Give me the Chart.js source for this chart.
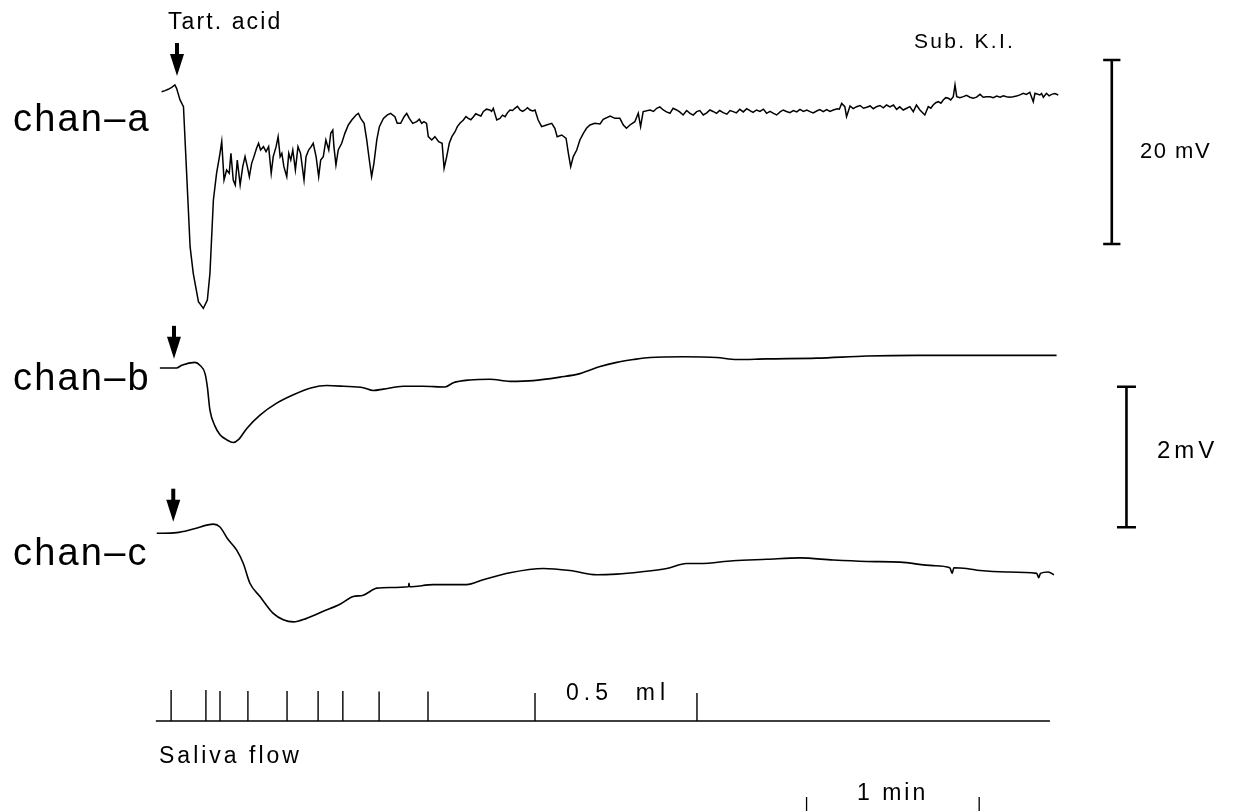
<!DOCTYPE html>
<html><head><meta charset="utf-8">
<script src="https://cdn.jsdelivr.net/npm/chart.js@4"></script>
<style>html,body{margin:0;padding:0;background:#fff;overflow:hidden}#wrap{width:1235px;height:811px;position:relative}</style>
</head><body><div id="wrap"><canvas id="c"></canvas></div>
<script>
// time in seconds from stimulus, potentials in mV
const chanA = [[-5.0,-0.40],[-3.8,-0.29],[-2.7,-0.14],[-1.5,0.07],[-0.4,0.33],[0.2,-0.04],[1.4,-1.30],[2.6,-2.03],[3.7,-9.28],[4.9,-17.25],[6.0,-20.15],[7.8,-23.22],[9.5,-23.95],[10.9,-23.04],[11.8,-20.15],[13.0,-12.17],[14.1,-9.28],[15.3,-7.10],[15.9,-5.83],[16.7,-10.0],[17.6,-8.91],[18.5,-9.28],[19.1,-7.10],[19.9,-10.0],[20.6,-10.54],[21.3,-7.83],[22.3,-10.54],[23.2,-8.55],[24.0,-7.46],[24.8,-8.55],[25.5,-9.64],[26.3,-8.19],[27.1,-7.46],[28.0,-6.56],[28.7,-6.01],[29.4,-6.74],[30.4,-6.38],[31.3,-6.92],[32.2,-6.38],[33.1,-9.28],[33.8,-7.46],[34.8,-6.38],[35.5,-5.29],[36.2,-7.46],[36.8,-7.10],[37.5,-8.55],[38.5,-9.64],[39.2,-7.10],[39.9,-7.83],[40.6,-6.74],[41.5,-8.91],[42.4,-6.38],[43.3,-7.10],[44.5,-10.0],[45.2,-7.46],[46.1,-6.74],[47.0,-6.38],[47.7,-6.01],[48.7,-7.46],[49.6,-9.64],[50.3,-7.83],[51.2,-7.46],[52.1,-5.65],[53.1,-6.74],[53.8,-4.93],[54.5,-4.57],[54.9,-6.38],[55.6,-8.37],[56.4,-6.74],[57.6,-6.01],[58.7,-4.93],[59.9,-4.02],[61.1,-3.48],[62.6,-2.93],[63.4,-2.75],[64.2,-3.30],[65.4,-3.84],[66.3,-5.65],[67.2,-7.83],[68.0,-9.64],[68.8,-8.19],[69.8,-5.65],[70.7,-4.20],[72.1,-3.30],[73.5,-2.93],[74.6,-2.75],[76.1,-3.12],[76.9,-3.84],[78.1,-3.84],[79.3,-3.12],[80.2,-2.75],[81.1,-3.30],[82.3,-3.84],[83.7,-3.66],[85.4,-3.84],[87.1,-3.84],[87.7,-5.29],[88.9,-5.65],[90.0,-5.29],[91.3,-5.83],[92.5,-6.01],[93.2,-8.73],[94.1,-7.46],[95.0,-6.01],[95.9,-5.29],[97.0,-4.75],[97.8,-4.20],[98.7,-3.84],[99.9,-3.48],[101.6,-3.30],[103.4,-3.12],[105.1,-2.93],[106.8,-2.57],[109.1,-2.39],[110.3,-2.21],[111.5,-3.48],[112.6,-3.30],[114.4,-3.12],[116.1,-2.39],[117.8,-2.21],[119.6,-2.39],[121.3,-2.39],[123.1,-2.39],[124.8,-2.39],[125.9,-3.48],[127.1,-4.20],[128.8,-4.02],[130.6,-3.84],[131.7,-4.38],[132.5,-5.29],[134.1,-5.11],[135.6,-5.47],[136.4,-7.10],[137.2,-8.55],[138.1,-7.46],[139.3,-6.74],[140.4,-5.65],[141.6,-4.93],[142.7,-4.38],[143.9,-4.02],[145.6,-3.84],[147.4,-3.91],[148.5,-3.41],[150.9,-3.04],[152.6,-3.30],[154.3,-3.30],[155.5,-4.02],[156.6,-4.38],[157.8,-4.02],[159.5,-3.66],[160.7,-2.75],[161.5,-4.20],[162.4,-2.57],[164.8,-2.39],[167.1,-2.21],[169.4,-2.39],[171.7,-2.75],[174.0,-2.39],[176.3,-2.93],[178.7,-2.75],[181.0,-2.57],[183.3,-2.93],[185.6,-2.39],[187.9,-2.75],[190.2,-2.68],[193.7,-2.57],[196.0,-2.32],[199.5,-2.46],[201.8,-2.39],[205.3,-2.75],[208.8,-2.93],[211.1,-2.39],[213.4,-2.68],[216.9,-2.32],[220.4,-2.57],[222.7,-2.50],[225.0,-2.57],[228.5,-2.39],[231.4,-1.67],[232.5,-2.03],[233.1,-3.12],[234.3,-1.96],[236.6,-2.03],[240.1,-2.10],[243.5,-2.03],[247.0,-1.85],[250.5,-2.32],[252.8,-2.39],[255.1,-2.03],[256.3,-2.57],[257.4,-1.85],[258.6,-2.39],[260.3,-2.93],[261.5,-2.03],[263.2,-1.85],[265.0,-1.49],[266.7,-1.30],[268.5,-1.12],[270.2,-0.94],[270.8,0.33],[271.4,-0.94],[273.7,-0.94],[277.1,-1.12],[279.5,-0.69],[281.8,-0.94],[285.3,-0.87],[288.7,-0.94],[292.2,-0.87],[294.5,-0.58],[296.8,-0.47],[298.0,-1.49],[298.6,-0.58],[300.3,-0.76],[301.5,-1.01],[302.6,-0.58],[304.4,-0.69],[306.7,-0.76]];

// finer ripple read between the main points of chan-a
const chanARipple = [[84.6,-3.40],[86.2,-3.65],[100.8,-3.10],[102.5,-3.45],[104.2,-2.80],[106.0,-3.05],[107.9,-2.30],[109.7,-2.55],[113.5,-2.95],[115.2,-2.70],[117.0,-2.45],[118.7,-2.00],[120.5,-2.55],[122.2,-2.15],[124.0,-2.50],[166.0,-2.55],[168.2,-2.05],[170.5,-2.60],[172.8,-2.20],[175.1,-2.60],[177.5,-2.45],[179.8,-2.95],[182.1,-2.45],[184.5,-2.70],[186.7,-2.55],[189.0,-2.45],[191.5,-2.85],[192.6,-2.45],[194.8,-2.70],[197.2,-2.60],[198.4,-2.25],[200.6,-2.65],[203.0,-2.55],[204.2,-2.30],[206.5,-2.55],[207.7,-2.75],[210.0,-2.60],[212.2,-2.55],[214.6,-2.45],[215.8,-2.60],[218.1,-2.55],[219.3,-2.40],[221.5,-2.70],[223.8,-2.35],[226.2,-2.35],[227.3,-2.55],[229.9,-2.25],[230.6,-2.30],[235.4,-2.25],[237.8,-1.90],[239.0,-2.20],[241.3,-1.95],[242.4,-2.25],[244.7,-1.90],[245.9,-2.15],[248.2,-2.05],[249.4,-1.85],[251.6,-2.05],[254.0,-2.20],[262.4,-2.20],[264.1,-1.60],[265.9,-1.65],[267.6,-1.05],[269.3,-1.30],[272.5,-1.05],[274.8,-0.80],[276.0,-1.00],[278.3,-1.00],[280.6,-1.00],[283.0,-0.95],[284.1,-1.05],[286.5,-1.00],[287.6,-0.85],[289.9,-1.00],[291.0,-0.95],[293.4,-0.75],[295.6,-0.70],[300.9,-0.60],[303.5,-0.85],[305.5,-0.60]];

const chanB = [[-5.6,0],[0.2,0],[2.0,0.04],[6.6,0.08],[8.3,0.04],[10.1,-0.08],[10.9,-0.27],[11.8,-0.60],[13.6,-0.83],[15.3,-0.95],[17.6,-1.02],[19.9,-1.06],[21.7,-1.02],[24.6,-0.86],[29.2,-0.67],[35.0,-0.50],[40.8,-0.38],[47.2,-0.28],[52.4,-0.25],[58.2,-0.26],[65.1,-0.28],[68.6,-0.32],[72.1,-0.30],[79.0,-0.26],[86.0,-0.26],[93.5,-0.27],[96.4,-0.21],[102.2,-0.17],[109.1,-0.16],[116.1,-0.19],[124.2,-0.18],[133.5,-0.13],[140.4,-0.08],[147.4,0.02],[153.2,0.08],[159.0,0.12],[164.8,0.15],[176.3,0.16],[187.9,0.15],[194.9,0.12],[205.3,0.13],[222.7,0.14],[240.1,0.17],[257.4,0.18],[269.0,0.18],[286.4,0.18],[306.1,0.18]];

const chanC = [[-6.7,0],[0.2,0.01],[6.0,0.06],[13.0,0.13],[15.3,0.09],[17.8,-0.07],[21.1,-0.24],[23.4,-0.43],[25.7,-0.71],[29.2,-0.90],[33.8,-1.14],[37.3,-1.23],[40.8,-1.26],[45.4,-1.21],[51.2,-1.11],[57.0,-1.01],[61.6,-0.90],[65.1,-0.88],[69.8,-0.78],[74.4,-0.77],[80.8,-0.76],[81.0,-0.71],[81.2,-0.76],[89.5,-0.73],[101.0,-0.73],[106.8,-0.66],[116.1,-0.56],[127.7,-0.50],[137.0,-0.53],[146.2,-0.59],[153.2,-0.58],[161.3,-0.55],[170.6,-0.50],[177.5,-0.43],[182.1,-0.43],[193.7,-0.39],[205.3,-0.37],[216.9,-0.35],[228.5,-0.38],[240.1,-0.40],[251.7,-0.41],[263.2,-0.46],[269.0,-0.49],[269.8,-0.57],[270.4,-0.49],[274.8,-0.50],[279.5,-0.53],[288.7,-0.55],[299.2,-0.57],[299.9,-0.63],[300.5,-0.57],[303.2,-0.55],[305.2,-0.59]];

// saliva flow drop marks (s) and their relative heights
const flowMarks = [-1.7,10.4,15.3,25.0,38.6,49.4,58.0,70.6,87.6,124.8,181.1];
const flowMarkHeights = [1.0,1.0,0.97,0.97,0.97,0.97,0.97,0.95,0.95,0.9,0.9];
const flowRange = [-7.0,303.8];

// calibration bars
const barA = {t:325.3, from:-16.96, size:20};   // 20 mV
const barBC = {t:330.4, from:-2.266, size:2};   // 2 mV
const timeBar = {start:219.2, length:60};       // 1 min

// stimulus arrows: channel axis, time, tip value
const arrows = [{axis:'ya',t:0.35,v:1.3},{axis:'yb',t:-0.7,v:0.13},{axis:'yc',t:-0.95,v:0.165}];

const xy = a => a.map(p => ({x:p[0], y:p[1]}));
const chanAAll = chanA.concat(chanARipple).sort((p,q)=>p[0]-q[0]);

function flowData(){
  const d=[{x:flowRange[0],y:0}];
  flowMarks.forEach((t,i)=>{d.push({x:t,y:0},{x:t,y:flowMarkHeights[i]},{x:t,y:0});});
  d.push({x:flowRange[1],y:0});
  return d;
}
function calBar(b,cap){
  const top=b.from+b.size;
  return [{x:b.t-cap,y:b.from},{x:b.t+cap,y:b.from},{x:b.t,y:b.from},{x:b.t,y:top},{x:b.t-cap,y:top},{x:b.t+cap,y:top}];
}
function timeBarData(){
  const s=timeBar.start, e=timeBar.start+timeBar.length;
  return [{x:s,y:-2.45},{x:s,y:-3.2},{x:(s+e)/2,y:null},{x:e,y:-2.45},{x:e,y:-3.2}];
}

const labels = [
  {text:'Tart. acid', x:168, y:29, size:23, sp:2.1},
  {text:'Sub. K.I.', x:914, y:48, size:21, sp:2.3},
  {text:'chan\u2013a', x:13, y:131, size:38, sp:2.2},
  {text:'chan\u2013b', x:13, y:390, size:38, sp:2.2},
  {text:'chan\u2013c', x:13, y:565, size:38, sp:2.2},
  {text:'20 mV', x:1140, y:158, size:22, sp:1.5},
  {text:'2mV', x:1157, y:458, size:24, sp:4},
  {text:'0.5  ml', x:566, y:700, size:23, sp:5},
  {text:'Saliva flow', x:159, y:763, size:23, sp:3},
  {text:'1 min', x:857, y:800, size:23, sp:3}
];

const drawPlugin = {
  id:'decor',
  beforeDraw(chart){
    const c=chart.ctx; c.save(); c.fillStyle='#fff'; c.fillRect(0,0,chart.width,chart.height); c.restore();
  },
  afterDraw(chart){
    const c=chart.ctx, xs=chart.scales.x;
    c.save();
    c.fillStyle='#000';
    arrows.forEach(a=>{
      const x=xs.getPixelForValue(a.t), tip=chart.scales[a.axis].getPixelForValue(a.v);
      c.fillRect(x-2,tip-33,4,14);
      c.beginPath(); c.moveTo(x-7,tip-22); c.lineTo(x+7,tip-22); c.lineTo(x,tip); c.closePath(); c.fill();
    });
    c.textBaseline='alphabetic';
    labels.forEach(l=>{
      c.font=l.size+'px "Liberation Sans", Arial, Helvetica, sans-serif';
      if('letterSpacing' in c) c.letterSpacing=l.sp+'px';
      c.fillText(l.text,l.x,l.y);
    });
    c.restore();
  }
};

const line = (data, axis, w, extra) => Object.assign({data, yAxisID:axis, borderColor:'#000', borderWidth:w, pointRadius:0, fill:false, tension:0, spanGaps:false}, extra||{});

new Chart(document.getElementById('c'), {
  type:'line',
  data:{datasets:[
    line(xy(chanAAll),'ya',1.5),
    line(xy(chanB),'yb',1.6,{cubicInterpolationMode:'monotone'}),
    line(xy(chanC),'yc',1.6,{cubicInterpolationMode:'monotone'}),
    line(flowData(),'ys',1.4),
    line(calBar(barA,3.0),'ya',2.6),
    line(calBar(barBC,3.3),'yb',2.6),
    line(timeBarData(),'ys',1.3)
  ]},
  options:{
    responsive:true, maintainAspectRatio:false, animation:false,
    layout:{padding:0},
    plugins:{legend:{display:false}, tooltip:{enabled:false}},
    scales:{
      x:{type:'linear', min:-61.18, max:368.13, display:false},
      ya:{type:'linear', min:-78.59, max:9.565, display:false},
      yb:{type:'linear', min:-6.302, max:5.235, display:false},
      yc:{type:'linear', min:-3.950, max:7.586, display:false},
      ys:{type:'linear', min:-2.903, max:23.26, display:false}
    }
  },
  plugins:[drawPlugin]
});
</script>
</body></html>
